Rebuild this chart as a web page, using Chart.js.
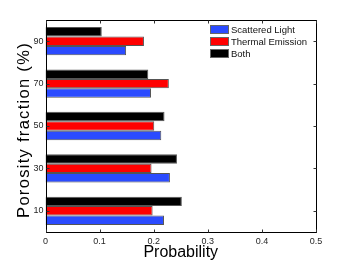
<!DOCTYPE html>
<html>
<head>
<meta charset="utf-8">
<script src="https://cdn.jsdelivr.net/npm/chart.js@4/dist/chart.umd.min.js"></script>
<style>
html,body{margin:0;padding:0;background:#fff;}
#wrap{width:350px;height:262px;position:relative;}
</style>
</head>
<body>
<div id="wrap"><canvas id="c" width="350" height="262"></canvas></div>
<script>
// Categories listed top to bottom as shown
const categories = ['90', '70', '50', '30', '10'];
const scatteredLight = [0.149, 0.195, 0.214, 0.230, 0.219];
const thermalEmission = [0.182, 0.228, 0.201, 0.196, 0.198];
const both = [0.104, 0.190, 0.220, 0.243, 0.252];
const xTicks = [0, 0.1, 0.2, 0.3, 0.4, 0.5];
const seriesNames = ['Scattered Light', 'Thermal Emission', 'Both'];
const yTitle = 'Porosity fraction (%)';
const xTitle = 'Probability';

const FONT = "'Liberation Sans', Arial, Helvetica, sans-serif";
const colors = {scattered: '#2b4bff', thermal: '#ff0000', both: '#000000'};

const framePlugin = {
  id: 'frame',
  afterDatasetsDraw(chart) {
    const ctx = chart.ctx;
    const {left, right, top, bottom} = chart.chartArea;
    const xs = chart.scales.x, ys = chart.scales.y;
    ctx.save();
    ctx.strokeStyle = '#000';
    ctx.lineWidth = 1;
    const L = Math.round(left) + 0.5, R = Math.round(right) + 0.5;
    const T = Math.round(top) + 0.5, B = Math.round(bottom) + 0.5;
    ctx.strokeRect(L, T, R - L, B - T);
    ctx.strokeStyle = '#333';
    ctx.beginPath();
    xTicks.forEach(v => {
      const px = Math.round(xs.getPixelForValue(v)) + 0.5;
      ctx.moveTo(px, B); ctx.lineTo(px, B - 3);
      ctx.moveTo(px, T); ctx.lineTo(px, T + 3);
    });
    categories.forEach((c, i) => {
      const py = Math.round(ys.getPixelForValue(i)) + 0.5;
      ctx.moveTo(L, py); ctx.lineTo(L + 3, py);
      ctx.moveTo(R, py); ctx.lineTo(R - 3, py);
    });
    ctx.stroke();
    ctx.restore();
  },
  afterDraw(chart) {
    const ctx = chart.ctx;
    // Y axis title (drawn with slight letter spacing like the reference)
    ctx.save();
    ctx.font = "16.5px " + FONT;
    ctx.fillStyle = '#000';
    ctx.textAlign = 'center';
    ctx.textBaseline = 'alphabetic';
    try { ctx.letterSpacing = '1.3px'; } catch (e) {}
    ctx.translate(28.5, 130);
    ctx.rotate(-Math.PI / 2);
    ctx.fillText(yTitle, 0, 0);
    ctx.restore();

    // Legend (legend order: Scattered, Thermal, Both)
    const items = [
      {label: seriesNames[0], color: colors.scattered},
      {label: seriesNames[1], color: colors.thermal},
      {label: seriesNames[2], color: colors.both}
    ];
    ctx.save();
    ctx.font = "9.5px " + FONT;
    ctx.textBaseline = 'middle';
    ctx.textAlign = 'left';
    items.forEach((it, i) => {
      const y = 25 + i * 12;
      ctx.fillStyle = it.color;
      ctx.fillRect(210, y, 19, 9);
      ctx.strokeStyle = '#666';
      ctx.lineWidth = 1;
      ctx.strokeRect(210.5, y + 0.5, 18, 8);
      ctx.fillStyle = '#111';
      ctx.fillText(it.label, 231, y + 5);
    });
    ctx.restore();
  }
};

new Chart(document.getElementById('c'), {
  type: 'bar',
  data: {
    labels: categories,
    datasets: [
      {label: seriesNames[2], data: both, backgroundColor: colors.both},
      {label: seriesNames[1], data: thermalEmission, backgroundColor: colors.thermal},
      {label: seriesNames[0], data: scatteredLight, backgroundColor: colors.scattered}
    ]
  },
  options: {
    indexAxis: 'y',
    responsive: false,
    animation: false,
    devicePixelRatio: 1,
    datasets: {
      bar: {
        categoryPercentage: 0.667,
        barPercentage: 1,
        borderWidth: 1,
        borderColor: '#555',
        borderSkipped: 'start'
      }
    },
    layout: {padding: {top: 20, right: 34, left: 0, bottom: 0}},
    plugins: {legend: {display: false}, tooltip: {enabled: false}},
    scales: {
      x: {
        type: 'linear',
        min: 0, max: 0.5,
        afterFit: s => { s.height = 30; },
        afterBuildTicks: s => { s.ticks = xTicks.map(v => ({value: v})); },
        grid: {display: false, drawTicks: false},
        border: {display: false},
        ticks: {
          padding: 4,
          color: '#262626',
          font: {family: FONT, size: 9},
          callback: v => String(v)
        },
        title: {
          display: true, text: xTitle, color: '#000',
          font: {family: FONT, size: 16}, padding: {top: 0, bottom: 0}
        }
      },
      y: {
        type: 'category',
        afterFit: s => { s.width = 45.5; },
        grid: {display: false, drawTicks: false},
        border: {display: false},
        ticks: {
          padding: 2,
          color: '#262626',
          font: {family: FONT, size: 9}
        },
        title: {display: false}
      }
    }
  },
  plugins: [framePlugin]
});
</script>
</body>
</html>
